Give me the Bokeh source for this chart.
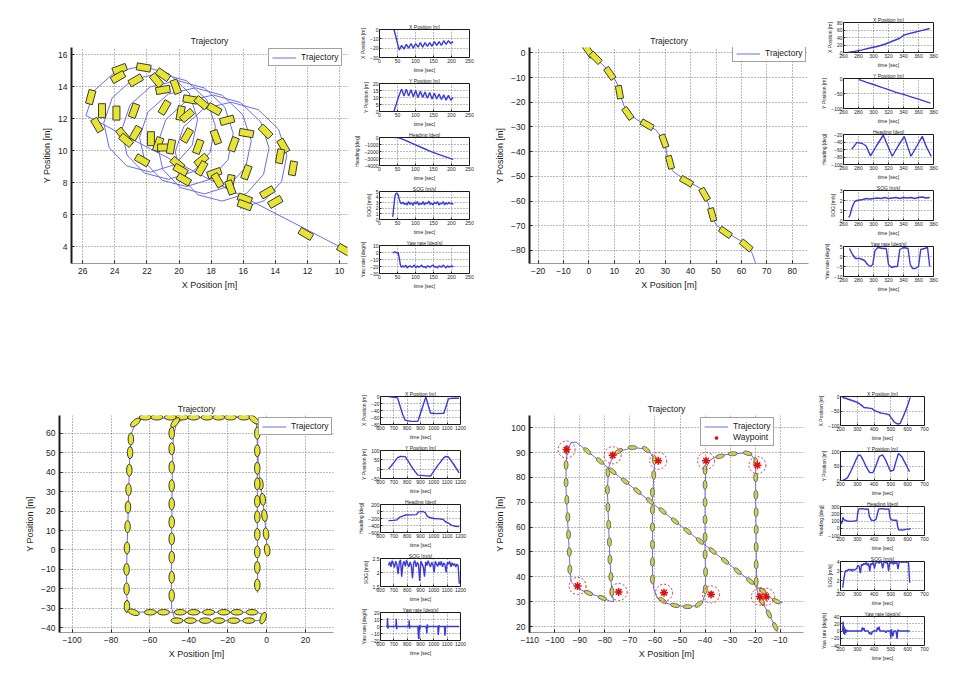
from bokeh.plotting import figure
from bokeh.models import Range1d, FixedTicker, Legend, LegendItem, Spacer
from bokeh.layouts import row, column
from bokeh.embed import file_html
from bokeh.resources import INLINE

FONT = "Liberation Sans"
INK = "#222222"
TRAJ_COLOR = "#6c6ce6"
SERIES_COLOR = "#3a3ad6"
BOAT_FILL = "#e8e432"
BOAT_LINE = "#3a3a3a"

# ======================= DATA =======================
# ---- Panel 1 (loops) ----
P1_TRAJ_X = [9.0, 25.80, 25.28, 24.01, 22.32, 20.63, 19.37, 18.84, 19.18, 20.26, 21.77, 23.27, 24.35,
             24.69, 24.16, 22.90, 21.21, 19.52, 18.25, 17.73, 18.07, 19.14, 20.65, 22.16, 23.24,
             23.57, 23.05, 21.79, 20.09, 18.40, 17.14, 16.62, 16.95, 18.03, 19.54, 21.05, 22.12,
             22.46, 21.94, 20.67, 18.98, 17.29, 16.03, 15.50, 15.84, 16.92, 18.42, 19.93, 21.01,
             21.35, 20.82, 19.56, 17.87, 16.17, 14.91, 14.39, 14.73, 15.80, 17.31, 18.82, 19.90,
             20.23, 19.71, 18.45, 16.75, 15.06, 13.80, 13.28, 13.61, 14.69, 16.20]
P1_TRAJ_Y = [3.49, 12.20, 13.76, 14.90, 15.29, 14.82, 13.61, 11.97, 10.34, 9.13, 8.66, 9.05, 10.19,
             11.75, 13.31, 14.44, 14.84, 14.37, 13.16, 11.52, 9.88, 8.68, 8.21, 8.60, 9.73,
             11.30, 12.86, 13.99, 14.38, 13.91, 12.71, 11.07, 9.43, 8.22, 7.76, 8.15, 9.28,
             10.84, 12.41, 13.54, 13.93, 13.46, 12.25, 10.62, 8.98, 7.77, 7.30, 7.70, 8.83,
             10.39, 11.95, 13.09, 13.48, 13.01, 11.80, 10.16, 8.53, 7.32, 6.85, 7.24, 8.38,
             9.94, 11.50, 12.63, 13.03, 12.56, 11.35, 9.71, 8.07, 6.87, 6.40]
P1_BOAT_X = [23.7, 23.8, 22.2, 21.0, 22.7, 21.4, 20.2, 21.0, 25.5, 19.3, 18.6, 17.8, 20.9, 19.9, 22.8,
             23.9, 24.8, 19.5, 17.0, 25.1, 22.7, 23.5, 23.3, 21.75, 21.3, 20.9, 20.5, 19.5, 18.8, 17.7,
             16.6, 15.8, 14.6, 13.5, 13.7, 12.9, 22.3, 20.1, 19.9, 18.6, 18.6, 17.8, 17.6, 16.8, 16.8,
             15.8, 19.7, 14.5, 14.0, 15.9, 15.9, 12.1, 9.7]
P1_BOAT_Y = [15.1, 14.6, 15.2, 14.75, 14.4, 14.4, 14.0, 13.8, 13.35, 13.2, 13.0, 12.6, 12.7, 12.35, 12.5,
             12.35, 12.5, 12.2, 11.9, 11.6, 11.1, 11.0, 10.65, 10.75, 10.4, 10.2, 10.25, 10.95, 10.25, 10.85,
             10.4, 11.1, 11.2, 10.3, 9.65, 8.9, 9.4, 9.2, 8.8, 9.4, 8.9, 8.6, 8.15, 8.05, 7.7,
             8.65, 8.2, 7.4, 6.8, 7.0, 6.6, 4.8, 3.8]
P1_BOAT_A = [20, 30, -10, -35, 30, -50, -70, 10, 75, -10, -40, -30, 60, 80, 70,
             90, 90, 40, 15, -60, 60, -50, -40, 90, 70, 0, 80, 60, 70, -70,
             70, -10, -45, -60, 80, 80, -30, -40, -30, 40, 60, 20, -60, 80, -70,
             70, -30, 30, 30, -20, -20, -30, -30]

P1_T = [40, 45, 50, 55, 61.5, 68, 74.5, 81, 87.5, 94, 100.5, 107, 113.5, 120, 126.5, 133, 139.5,
        146, 152.5, 159, 165.5, 172, 178.5, 185, 191.5, 198, 204.5]
P1_XPOS = [0, -7, -15, -22, -17, -21, -16, -20, -15, -20, -15, -19, -14, -19, -14, -18, -14,
           -18, -13, -17, -13, -17, -12, -16, -12, -15, -13]
P1_YPOS = [0, 4, 8, 12, 16, 11, 16, 11, 15.5, 10.5, 15, 10, 14.5, 10, 14, 9.5, 13.5,
           9, 13, 9, 12.5, 8.5, 12, 8, 11.5, 8, 10]
P1_HEAD_T = [40, 50, 60, 80, 100, 120, 140, 160, 180, 200, 205]
P1_HEAD = [0, -20, -150, -600, -1050, -1500, -1950, -2350, -2700, -3050, -3100]
P1_FAST_T = [37, 40, 43, 46, 49, 52, 55, 58, 61, 65, 69, 73, 77, 81, 85, 89, 93, 97, 101, 105,
             109, 113, 117, 121, 125, 129, 133, 137, 141, 145, 149, 153, 157, 161, 165, 169, 173,
             177, 181, 185, 189, 193, 197, 201, 205]
P1_SOG = [0.5, 2.5, 4.2, 4.7, 4.6, 4.4, 3.6, 3.0, 2.8, 3.1, 2.7, 2.9, 2.6, 3.2, 2.7, 3.0, 2.5, 3.1, 2.8,
          3.2, 2.6, 2.9, 2.7, 3.2, 2.6, 3.0, 2.8, 3.3, 2.7, 2.9, 2.6, 3.1, 2.8, 3.2, 2.6, 2.9, 2.8,
          3.2, 2.6, 3.0, 2.7, 3.1, 2.8, 2.9, 2.7]
P1_YAW = [0, 0, 1, 0, -1, 0, -8, -18, -21, -19, -21, -18, -22, -20, -19, -21, -20, -18, -22,
          -19, -21, -20, -18, -21, -20, -22, -19, -20, -21, -19, -18, -21, -20, -22, -19, -20, -21,
          -18, -20, -22, -19, -21, -20, -19, -21]

# ---- Panel 2 (zig-zag run) ----
P2_TRAJ_X = [-1.5, -0.4, 2.6, 7.8, 9.8, 11.8, 12.4, 13.7, 15.7, 19.0, 22.9, 26.2, 28.8, 30.1, 30.8, 31.4,
             33.4, 37.3, 40.6, 43.9, 45.9, 46.9, 47.8, 49.2, 50.5, 53.1, 56.4, 59.7, 62.3, 64.3, 65.6, 66.5]
P2_TRAJ_Y = [3.0, 1.3, -2.0, -7.3, -9.9, -13.9, -17.2, -21.2, -24.5, -27.1, -29.1, -31.1, -34.4, -37.7,
             -41.7, -45.0, -48.3, -50.9, -52.9, -54.9, -57.5, -60.8, -64.8, -68.1, -70.1, -72.1, -74.1,
             -76.1, -78.0, -81.3, -85.3, -88.0]
P2_BOAT_X = [-0.1, 2.6, 8.2, 12.0, 15.3, 22.9, 29.5, 31.9, 38.4, 45.5, 48.5, 53.7, 61.9]
P2_BOAT_Y = [0.7, -2.0, -8.3, -15.9, -24.5, -29.1, -35.7, -44.3, -52.0, -57.3, -65.5, -72.7, -78.0]
P2_BOAT_A = [-55, -45, -55, -80, -55, -30, -70, -75, -30, -60, -75, -35, -40]

P2_XPOS_T = [266, 275, 285, 295, 305, 315, 325, 335, 340, 345, 355, 365, 375]
P2_XPOS = [0, 3, 7, 12, 16, 22, 30, 38, 46, 49, 54, 59, 64]
P2_YPOS_T = [280, 290, 300, 310, 320, 330, 340, 350, 360, 370, 376]
P2_YPOS = [-3, -12, -20, -29, -37, -46, -53, -61, -69, -77, -82]
P2_HEAD_T = [271, 278, 285, 290, 296, 304, 313, 319, 325, 333, 341, 346, 350, 358, 365, 371, 377]
P2_HEAD = [-59, -41, -44, -50, -77, -50, -22, -50, -78, -50, -25, -55, -78, -50, -25, -55, -78]
P2_SOG_T = [267, 269, 271, 273, 275, 278, 282, 286, 290, 295, 300, 305, 310, 315, 320, 325, 330, 335,
            340, 345, 350, 355, 360, 365, 370, 375]
P2_SOG = [0.3, 0.6, 1.2, 1.6, 1.9, 2.0, 2.05, 2.1, 2.2, 2.15, 2.2, 2.25, 2.2, 2.3, 2.2, 2.25, 2.3, 2.2,
          2.3, 2.25, 2.3, 2.2, 2.3, 2.35, 2.25, 2.3]
P2_YAW_T = [268, 272, 276, 282, 288, 292, 296, 299, 302, 306, 312, 317, 320, 324, 328, 332, 335, 340,
            346, 349, 352, 356, 360, 363, 368, 372, 375]
P2_YAW = [4, 1, -1, -1, -2, -4, -5, -4, 3, 4.5, 4, 4, -4, -5.5, -5, -5, 3.5, 4.5, 4, -4, -6, -6, -5,
          3.5, 4, 4.5, -5]

# ---- Panel 3 (rectangle) ----
P3_TRAJ_X = [0.3, -0.3, -1.1, -2.0, -3.2, -4.2, -4.5, -4.6, -5.5, -8.0, -15, -30, -45, -60, -64.5, -67.5,
             -69.5, -70.3, -70.8, -71.3, -71.8, -72.0, -71.8, -71.0, -68.5, -60, -45, -30, -15, -5.0,
             -2.0, -1.0, -2.5, -6, -20, -35, -44, -47.5, -48.8, -49.0, -48.9, -48.7, -48.5, -48.0,
             -46.5, -43, -30, -15, -7.0, -5.0, -4.8, -4.8, -4.8, -4.7, -4.6]
P3_TRAJ_Y = [0.0, 8.3, 17.7, 26.0, 34.0, 42, 52, 61, 65.5, 67.8, 68.2, 68.0, 67.8, 67.6, 67.0, 65.0,
             60, 50, 35, 15, 0, -15, -25, -30, -31.8, -32, -32, -32, -32, -32,
             -33, -34.5, -36, -36.4, -36.4, -36.4, -36.2, -34.5, -30, -20, 0, 20, 40, 58,
             64.5, 67.5, 68.3, 68.3, 68.0, 65.0, 55, 35, 15, 0, -22]
P3_BOAT_X = [0.3, -0.3, -1.1, -2.0, -3.2,
             -4.8, -4.8, -4.8, -4.8, -4.8, -4.8, -4.8, -4.8, -4.8, -4.8,
             -62.4, -56.4, -49.5, -43.5, -37.5, -30.6, -24.6, -18.6, -11.7,
             -67.5, -6.5, -47.0,
             -69.8, -70.2, -70.6, -71.0, -71.3, -71.5, -71.8, -72.0, -72.0, -71.8,
             -68.4, -59.8, -53.0, -44.4, -37.5, -29.8, -22.0, -15.2, -7.5,
             -46.1, -39.2, -31.5, -24.6, -16.9, -9.2,
             -48.8, -48.8, -48.8, -48.8, -48.8, -48.8, -48.8, -48.8, -48.8, -48.8,
             -1.8]
P3_BOAT_Y = [0, 8.3, 17.7, 26.0, 34.0,
             60, 51, 42, 34, 25, 17, 8, -1, -9, -18,
             68.2, 68.2, 68.2, 68.2, 68.2, 68.2, 68.2, 68.2, 68.2,
             65.5, 67.0, 65.5,
             57, 50, 41, 31, 22, 12, 1, -10, -20, -29,
             -32, -32, -32, -32, -32, -32, -32, -32, -32,
             -36.3, -36.3, -36.3, -36.3, -36.3, -36.3,
             60, 52, 42.5, 33, 23.7, 14.3, 5.7, -3.7, -14, -23.4,
             -35.0]
P3_BOAT_A = [96, 96, 96, 96, 96,
             90, 90, 90, 90, 90, 90, 90, 90, 90, 90,
             0, 0, 0, 0, 0, 0, 0, 0, 0,
             40, -40, 50,
             90, 90, 90, 90, 90, 90, 90, 90, 90, 90,
             -20, 0, 0, 0, 0, 0, 0, 0, 0,
             0, 0, 0, 0, 0, 0,
             90, 90, 90, 90, 90, 90, 90, 90, 90, 90,
             70]

P3_XPOS_T = [660, 700, 728, 745, 765, 785, 830, 880, 900, 920, 940, 958, 975, 1020, 1075, 1090, 1110, 1150, 1190]
P3_XPOS = [0, -2, -4, -25, -50, -68, -71, -71, -48, -25, -1, -25, -47, -49, -48, -30, -6, -5, -5]
P3_YPOS_T = [660, 680, 700, 728, 750, 785, 810, 840, 880, 910, 940, 975, 1000, 1030, 1075, 1090, 1110, 1150, 1190]
P3_YPOS = [0, 17, 35, 62, 68, 67, 40, 5, -32, -33, -36, -37, -10, 20, 62, 68, 65, 25, -20]
P3_HEAD_T = [660, 700, 725, 740, 760, 790, 830, 870, 885, 920, 935, 950, 975, 1000, 1040, 1070, 1090,
             1110, 1130, 1160, 1190]
P3_HEAD = [-260, -255, -240, -170, -140, -100, -95, -90, -10, 0, -30, -130, -180, -200, -210, -230, -300,
           -330, -390, -420, -430]
P3_SOG_T = [660, 669, 678, 687, 696, 705, 714, 723, 732, 741, 750, 759, 768, 777, 786, 795, 804, 813, 822, 831,
            840, 849, 858, 867, 876, 885, 894, 903, 912, 921, 930, 939, 948, 957, 966, 975, 984, 993, 1002, 1011,
            1020, 1029, 1038, 1047, 1056, 1065, 1074, 1083, 1092, 1101, 1110, 1119, 1128, 1137, 1146, 1155,
            1164, 1173, 1182, 1191]
P3_SOG = [2.25, 2.38, 2.2, 2.42, 2.3, 2.18, 2.4, 2.28, 1.95, 2.35,
          2.45, 1.85, 2.3, 2.4, 2.22, 2.44, 2.3, 2.2, 2.38, 2.25,
          1.8, 2.35, 2.42, 2.2, 2.36, 2.28, 1.7, 2.4, 2.3, 2.2,
          1.85, 2.38, 2.25, 2.42, 2.3, 2.2, 2.36, 2.28, 2.0, 2.4,
          2.3, 2.22, 2.38, 2.26, 2.4, 2.2, 2.34, 2.28, 2.0, 2.36,
          2.3, 2.4, 2.2, 2.35, 2.25, 2.32, 2.2, 2.3, 2.25, 1.6]
P3_YAW_T = [640, 650, 653, 656, 659, 662, 700, 715, 718, 721, 724, 727, 760, 800, 812, 815, 818, 821, 824,
            870, 880, 885, 888, 891, 894, 897, 900, 940, 945, 948, 951, 954, 957, 1000, 1030, 1033, 1036,
            1039, 1042, 1075, 1080, 1083, 1086, 1089, 1092, 1190]
P3_YAW = [0, 0, 12, -3, 1, 0, 0, 0, 11, -4, 1, 0, 0, 0, 0, 9, -3, 1, 0,
          0, 0, -16, -18, 2, -5, 1, 0, 0, -4, -10, 3, -2, 0, 0, 0, -12, -7,
          2, 0, 0, 0, -13, -8, 1, 0, 0]

# ---- Panel 4 (waypoints) ----
P4_TRAJ_X = [-11.0, -12.5, -14.5, -16.5, -18.3, -19.3, -19.5, -19.6, -19.7, -19.8, -19.8, -20.2, -21.5, -24,
             -30, -35, -38, -39.5, -40, -40, -40, -39.8, -40, -41, -43, -47, -52, -56, -59, -60.5, -61, -61,
             -61, -60.5, -60.2, -61, -64, -69, -74, -77, -78.5, -79, -78.5, -78, -77.5, -77, -76.5, -78, -82,
             -87, -91, -93.5, -94, -94.5, -95, -95.5, -95.5, -95, -93.5, -91.5, -80, -60, -40, -20, -15, -12, -9]
P4_TRAJ_Y = [17.5, 21, 25, 28.5, 31.5, 35, 45, 55, 65, 75, 83, 87, 89, 89.8, 89.5, 88.5, 87, 84, 78, 65,
             50, 40, 33, 30, 28.5, 28, 28.5, 29.5, 31.5, 35, 42, 55, 70, 80, 85, 89, 91.5, 92, 90.5, 88,
             84, 75, 60, 48, 38, 33, 30, 30.2, 32, 33.5, 35.5, 38, 45, 55, 65, 75, 85, 91, 94, 94.2,
             84.9, 68.8, 52.8, 36.7, 32.4, 30.3, 29.6]
P4_BOAT_X = [-12, -14.5, -17.3,
             -19.6, -19.6, -19.6, -19.6, -19.6, -19.7, -19.8, -19.8,
             -23, -29, -34,
             -40, -40, -40, -40, -40, -40, -39.8, -39.9,
             -42.5, -47, -52, -57,
             -61, -61, -61, -61, -61, -61, -60.5, -60.2,
             -63.5, -69, -74.5,
             -78.8, -79, -78.8, -78.5, -78.2, -78, -77.6, -77.2,
             -81, -86.5,
             -94, -94.2, -94.5, -94.8, -95.2, -95.5, -95.5, -95.2,
             -87, -82, -77, -72, -67, -62, -57, -52, -47, -42, -37, -32, -27, -22, -17,
             -11.5]
P4_BOAT_Y = [20, 25, 30,
             38, 45, 52, 59, 66, 73, 80, 86,
             89.7, 89.5, 88.5,
             83, 77, 70, 63, 56, 49, 42, 35,
             29, 28, 28.5, 30.5,
             39, 46, 53, 60, 67, 74, 81, 87,
             91.2, 92, 90.5,
             82, 75, 68, 61, 54, 47, 40, 34,
             31.5, 33.5,
             43, 50, 57, 64, 71, 78, 85, 91,
             90.6, 86.6, 82.5, 78.5, 74.5, 70.5, 66.5, 62.4, 58.4, 54.4, 50.4, 46.4, 42.3, 38.3, 34.3,
             30.2]
P4_BOAT_A = [115, 115, 115,
             90, 90, 90, 90, 90, 90, 90, 90,
             -15, 3, 15,
             90, 90, 90, 90, 90, 90, 90, 90,
             35, 0, -12, -34,
             90, 90, 90, 90, 90, 90, 90, 90,
             -35, 0, 30,
             90, 90, 90, 90, 90, 90, 90, 90,
             -22, -22,
             90, 90, 90, 90, 90, 90, 90, 90,
             -39, -39, -39, -39, -39, -39, -39, -39, -39, -39, -39, -39, -39, -39, -39,
             -25]
P4_WP_X = [-95.3, -76.9, -58.7, -39.6, -19.1, -90.9, -74.5, -56.4, -37.6, -18.1, -15.6]
P4_WP_Y = [91.2, 88.9, 86.7, 86.7, 84.9, 36.3, 33.9, 33.6, 32.9, 32.0, 32.0]

P4_XPOS_T = [210, 230, 260, 290, 300, 320, 340, 370, 390, 400, 430, 450, 470, 490, 500, 520, 540, 555, 580, 600, 615]
P4_XPOS = [-3, -6, -12, -18, -20, -28, -38, -40, -42, -48, -55, -58, -60, -63, -72, -88, -95, -93, -60, -30, -3]
P4_YPOS_T = [213, 225, 242, 260, 280, 298, 308, 320, 335, 355, 374, 393, 410, 431, 450, 469, 485, 497, 516,
             530, 545, 564, 585, 611]
P4_YPOS = [0, 3, 10, 30, 55, 79, 88, 86, 70, 45, 27, 27, 50, 83, 88, 70, 48, 32, 36, 65, 93, 83, 60, 30]
P4_HEAD_T = [205, 210, 215, 220, 228, 240, 260, 280, 298, 302, 308, 330, 350, 365, 372, 385, 400, 412, 420,
             427, 450, 470, 488, 494, 500, 515, 535, 540, 546, 570, 590, 610, 618]
P4_HEAD = [60, 90, 150, 120, 110, 100, 95, 100, 105, 200, 265, 270, 262, 268, 160, 110, 105, 125, 200,
           265, 270, 262, 268, 160, 120, 110, 112, 30, -20, -25, -15, -10, -5]
P4_SOG_T = [213, 220, 227, 234, 241, 248, 255, 262, 269, 276, 283, 290, 297, 304, 311, 318, 325, 332, 339, 346,
            353, 360, 367, 374, 381, 388, 395, 402, 409, 416, 423, 430, 437, 444, 451, 458, 465, 472, 479, 486,
            493, 500, 507, 514, 521, 528, 535, 542, 549, 556, 563, 570, 577, 584, 591, 598, 605, 612]
P4_SOG = [1.3, 2.2, 2.9, 3.1, 3.0, 3.2, 3.1, 3.2, 3.0, 3.2,
          3.1, 3.2, 3.3, 3.6, 3.5, 2.8, 3.7, 3.6, 3.8, 3.7,
          3.9, 3.6, 3.8, 3.0, 3.8, 3.7, 3.9, 3.3, 3.8, 3.9,
          4.0, 3.8, 4.0, 3.9, 3.3, 3.9, 4.0, 3.8, 4.0, 3.0,
          3.9, 3.8, 4.0, 3.7, 3.9, 3.8, 4.0, 3.2, 3.9, 4.0,
          3.9, 4.0, 3.9, 4.0, 3.9, 4.0, 3.9, 1.8]
P4_YAW_T = [213, 216, 219, 222, 225, 228, 232, 236, 240, 250, 300, 325, 330, 335, 340, 345, 350, 365, 372, 378,
            384, 390, 400, 415, 420, 425, 430, 435, 440, 465, 470, 475, 495, 500, 503, 506, 512, 518, 522, 530,
            537, 540, 543, 550, 580, 612]
P4_YAW = [0, 26, -8, 12, -10, 6, -5, 3, 0, 0, 0, 0, 10, 2, 8, 0, 0, 0, -8, -4,
          -10, -2, 0, 0, 10, 3, 12, 0, 0, 0, -5, 0, 0, -20, 5, -3, -15, 0, 0, 0,
          -22, 0, 3, 0, 0, 0]

SMALL_TITLES = ["X Position [m]", "Y Position [m]", "Heading [deg]", "SOG [m/s]", "Yaw rate [deg/s]"]
SMALL_YLABELS = ["X Position [m]", "Y Position [m]", "Heading [deg]", "SOG [m/s]", "Yaw rate [deg/s]"]


# ======================= HELPERS =======================
def style_axes(p, tick_size, label_size, tick_in, label_standoff, axis_standoff):
    for ax in p.axis:
        ax.major_label_text_font = FONT
        ax.major_label_text_font_size = tick_size
        ax.major_label_text_color = INK
        ax.axis_label_text_font = FONT
        ax.axis_label_text_font_size = label_size
        ax.axis_label_text_font_style = "normal"
        ax.axis_label_text_color = INK
        ax.major_tick_in = tick_in
        ax.major_tick_out = 0
        ax.minor_tick_in = 0
        ax.minor_tick_out = 0
        ax.major_tick_line_color = INK
        ax.major_label_standoff = label_standoff
        ax.axis_label_standoff = axis_standoff
    p.grid.grid_line_color = "#555555"
    p.grid.grid_line_dash = "1 2"
    p.grid.grid_line_alpha = 0.8


def main_fig(width, left, right, top, bottom, xr, yr, xticks, yticks):
    p = figure(width=width, height=347, x_range=Range1d(*xr), y_range=Range1d(*yr),
               min_border_left=left, min_border_right=right, min_border_top=top,
               min_border_bottom=bottom, title="Trajectory",
               output_backend="svg", toolbar_location=None)
    p.title.align = "center"
    p.title.text_font = FONT
    p.title.text_font_size = "8.5px"
    p.title.text_font_style = "normal"
    p.title.text_color = INK
    p.title.standoff = 4
    p.xaxis.axis_label = "X Position [m]"
    p.yaxis.axis_label = "Y Position [m]"
    p.xaxis.ticker = FixedTicker(ticks=xticks)
    p.yaxis.ticker = FixedTicker(ticks=yticks)
    style_axes(p, "8.5px", "9px", 3, 4, 3)
    p.outline_line_color = None
    p.yaxis.axis_line_width = 2
    p.yaxis.axis_line_color = "#1a1a1a"
    p.xaxis.axis_line_color = "#9a9a9a"
    return p


def add_legend(p, items, loc):
    leg = Legend(items=items, location=loc,
                 label_text_font=FONT, label_text_font_size="8.5px", label_text_color=INK,
                 glyph_width=24, glyph_height=9, label_height=9, label_standoff=5,
                 padding=3, spacing=1, margin=0,
                 border_line_color="#444444", border_line_width=1,
                 background_fill_color="white", background_fill_alpha=1.0)
    p.add_layout(leg)


def small_fig(width, height, left, right, xr, xticks, yr, yticks, title, ylabel, t, v):
    p = figure(width=width, height=height, x_range=Range1d(*xr), y_range=Range1d(*yr),
               min_border_left=left, min_border_right=right, min_border_top=7,
               min_border_bottom=13, title=title,
               output_backend="svg", toolbar_location=None)
    p.title.align = "center"
    p.title.text_font = FONT
    p.title.text_font_size = "5px"
    p.title.text_font_style = "normal"
    p.title.text_color = INK
    p.title.standoff = 0
    p.xaxis.axis_label = "time [sec]"
    p.yaxis.axis_label = ylabel
    p.xaxis.ticker = FixedTicker(ticks=xticks)
    p.yaxis.ticker = FixedTicker(ticks=yticks)
    style_axes(p, "5px", "5px", 2, 1, 1)
    p.outline_line_color = "#1a1a1a"
    p.xaxis.axis_line_color = None
    p.yaxis.axis_line_color = None
    p.line(t, v, line_color=SERIES_COLOR, line_width=1.4)
    return p


def small_column(width, height, left, right, top_gap, xr, xticks, specs, series):
    kids = [Spacer(width=width, height=top_gap)]
    for i in range(5):
        yr, yt = specs[i]
        t, v = series[i]
        kids.append(small_fig(width, height, left, right, xr, xticks, yr, yt,
                              SMALL_TITLES[i], SMALL_YLABELS[i], t, v))
    return column(*kids)


# ======================= PANEL 1 =======================
m1 = main_fig(350, 71, 3, 47, 84, (26.7, 9.5), (2.95, 16.45),
              [10, 12, 14, 16, 18, 20, 22, 24, 26], [4, 6, 8, 10, 12, 14, 16])
r1 = m1.line(P1_TRAJ_X, P1_TRAJ_Y, line_color=TRAJ_COLOR, line_width=1)
m1.rect(P1_BOAT_X, P1_BOAT_Y, width=14, height=7, angle=P1_BOAT_A, angle_units="deg",
        width_units="screen", height_units="screen", fill_color=BOAT_FILL, line_color=BOAT_LINE,
        line_width=1)
add_legend(m1, [LegendItem(label="Trajectory", renderers=[r1])], (197, 197))

s1 = small_column(140, 54, 29, 21, 21, (0, 250), [0, 50, 100, 150, 200, 250],
                  [((-30, 0), [-30, -20, -10, 0]), ((0, 20), [0, 5, 10, 15, 20]),
                   ((-4000, 0), [-4000, -3000, -2000, -1000, 0]), ((0, 5), [0, 1, 2, 3, 4, 5]),
                   ((-30, 10), [-30, -20, -10, 0, 10])],
                  [(P1_T, P1_XPOS), (P1_T, P1_YPOS), (P1_HEAD_T, P1_HEAD),
                   (P1_FAST_T, P1_SOG), (P1_FAST_T, P1_YAW)])

# ======================= PANEL 2 =======================
m2 = main_fig(325, 39, 7, 42, 84, (-23.4, 86.4), (-85.3, 2.2),
              [-20, -10, 0, 10, 20, 30, 40, 50, 60, 70, 80],
              [-80, -70, -60, -50, -40, -30, -20, -10, 0])
r2 = m2.line(P2_TRAJ_X, P2_TRAJ_Y, line_color=TRAJ_COLOR, line_width=1)
m2.rect(P2_BOAT_X, P2_BOAT_Y, width=13, height=6, angle=P2_BOAT_A, angle_units="deg",
        width_units="screen", height_units="screen", fill_color=BOAT_FILL, line_color=BOAT_LINE,
        line_width=1)
add_legend(m2, [LegendItem(label="Trajectory", renderers=[r2])], (203, 201))

s2 = small_column(148, 56, 28, 30, 14, (260, 380), [260, 280, 300, 320, 340, 360, 380],
                  [((0, 80), [0, 20, 40, 60, 80]), ((-100, 0), [-100, -50, 0]),
                   ((-100, -20), [-100, -80, -60, -40, -20]), ((0, 3), [0, 1, 2, 3]),
                   ((-10, 5), [-10, -5, 0, 5])],
                  [(P2_XPOS_T, P2_XPOS), (P2_YPOS_T, P2_YPOS), (P2_HEAD_T, P2_HEAD),
                   (P2_SOG_T, P2_SOG), (P2_YAW_T, P2_YAW)])

# ======================= PANEL 3 =======================
m3 = main_fig(350, 59, 17, 68, 62, (-106.5, 34.4), (-42.4, 69.1),
              [-100, -80, -60, -40, -20, 0, 20],
              [-40, -30, -20, -10, 0, 10, 20, 30, 40, 50, 60])
r3 = m3.line(P3_TRAJ_X, P3_TRAJ_Y, line_color=TRAJ_COLOR, line_width=1)
m3.ellipse(P3_BOAT_X, P3_BOAT_Y, width=12, height=5.5, angle=P3_BOAT_A, angle_units="deg",
           width_units="screen", height_units="screen", fill_color=BOAT_FILL, line_color=BOAT_LINE,
           line_width=1)
add_legend(m3, [LegendItem(label="Trajectory", renderers=[r3])], (199, 197))

s3 = small_column(140, 54, 30, 30, 41, (600, 1200), [600, 700, 800, 900, 1000, 1100, 1200],
                  [((-80, 0), [-80, -60, -40, -20, 0]), ((-50, 100), [-50, 0, 50, 100]),
                   ((-600, 200), [-600, -400, -200, 0, 200]), ((1.5, 2.5), [1.5, 2, 2.5]),
                   ((-20, 20), [-20, -10, 0, 10, 20])],
                  [(P3_XPOS_T, P3_XPOS), (P3_YPOS_T, P3_YPOS), (P3_HEAD_T, P3_HEAD),
                   (P3_SOG_T, P3_SOG), (P3_YAW_T, P3_YAW)])

# ======================= PANEL 4 =======================
m4 = main_fig(325, 39, 12, 68, 61, (-110.1, -0.7), (17.6, 104.9),
              [-110, -100, -90, -80, -70, -60, -50, -40, -30, -20, -10],
              [20, 30, 40, 50, 60, 70, 80, 90, 100])
r4 = m4.line(P4_TRAJ_X, P4_TRAJ_Y, line_color=TRAJ_COLOR, line_width=1)
m4.ellipse(P4_BOAT_X, P4_BOAT_Y, width=9, height=4, angle=P4_BOAT_A, angle_units="deg",
           width_units="screen", height_units="screen", fill_color="#cfcf5c", line_color="#555555",
           line_width=0.8)
m4.circle(P4_WP_X, P4_WP_Y, radius=3.4, fill_color=None, line_color="#e03030",
          line_dash="2 2", line_width=1)
w4 = m4.scatter(P4_WP_X, P4_WP_Y, marker="asterisk", size=8, line_color="#e01010", line_width=1.5)
add_legend(m4, [LegendItem(label="Trajectory", renderers=[r4]),
                LegendItem(label="Waypoint", renderers=[w4])], (171, 186))

s4 = small_column(148, 55, 21, 39, 41, (200, 700), [200, 300, 400, 500, 600, 700],
                  [((-100, 0), [-100, -50, 0]), ((0, 100), [0, 50, 100]),
                   ((-100, 300), [-100, 0, 100, 200, 300]), ((1, 4), [1, 2, 3, 4]),
                   ((-40, 40), [-40, -20, 0, 20, 40])],
                  [(P4_XPOS_T, P4_XPOS), (P4_YPOS_T, P4_YPOS), (P4_HEAD_T, P4_HEAD),
                   (P4_SOG_T, P4_SOG), (P4_YAW_T, P4_YAW)])

layout = column(row(m1, s1, m2, s2), row(m3, s3, m4, s4))

open("out.html", "w").write(file_html(layout, INLINE))
